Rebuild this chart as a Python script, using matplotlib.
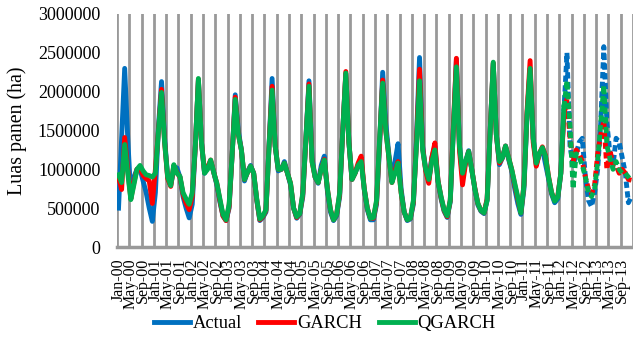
import numpy as np
import pandas as pd
import matplotlib
matplotlib.use('Agg')
import matplotlib.pyplot as plt

# monthly harvested area, thousand ha, Jan-2000 .. Dec-2013 (one row per year)
actual = [
    500, 1400, 2300, 1400, 650, 900, 1000, 1000, 850, 700, 500, 330,
    700, 1550, 2130, 1400, 900, 800, 1000, 1020, 900, 650, 500, 375,
    550, 1300, 2150, 1350, 950, 1020, 1100, 960, 800, 580, 400, 340,
    500, 1200, 1960, 1500, 1250, 850, 970, 1050, 950, 600, 340, 380,
    450, 1300, 2170, 1300, 980, 1000, 1100, 950, 800, 500, 370, 420,
    650, 1400, 2140, 1150, 900, 820, 1050, 1170, 720, 450, 340, 400,
    650, 1500, 2230, 1350, 870, 950, 1050, 1130, 740, 480, 350, 350,
    550, 1300, 2250, 1600, 1200, 850, 1100, 1330, 750, 450, 340, 360,
    550, 1400, 2440, 1300, 1000, 860, 1150, 1300, 850, 620, 460, 380,
    580, 1500, 2420, 1300, 900, 1100, 1240, 1000, 750, 540, 460, 430,
    600, 1500, 2360, 1450, 1060, 1150, 1300, 1130, 980, 750, 560, 420,
    750, 1700, 2300, 1400, 1060, 1200, 1270, 1070, 880, 680, 570, 620,
    950, 1750, 2500, 1300, 1050, 1200, 1350, 1400, 900, 600, 520, 700,
    1000, 1600, 2580, 1600, 1200, 1050, 1400, 1350, 1150, 950, 570, 650,
]
garch = [
    900, 740, 1410, 1000, 620, 830, 1000, 1020, 920, 880, 850, 560,
    1000, 1500, 2030, 1350, 880, 780, 1050, 960, 900, 680, 560, 480,
    650, 1300, 2160, 1350, 960, 1030, 1120, 960, 820, 600, 400, 340,
    520, 1200, 1930, 1450, 1250, 870, 960, 1040, 950, 610, 350, 390,
    470, 1300, 2070, 1300, 1000, 1000, 1080, 950, 820, 500, 380, 430,
    680, 1400, 2100, 1100, 900, 830, 1000, 1130, 750, 480, 350, 420,
    680, 1500, 2260, 1350, 870, 950, 1080, 1170, 750, 500, 370, 370,
    580, 1350, 2150, 1500, 1170, 830, 980, 1100, 700, 450, 350, 370,
    580, 1350, 2290, 1280, 980, 820, 1150, 1340, 860, 640, 470, 390,
    600, 1550, 2430, 1250, 800, 1080, 1230, 1000, 760, 560, 470, 440,
    620, 1500, 2370, 1450, 1080, 1150, 1300, 1150, 1000, 800, 620, 440,
    800, 1750, 2400, 1350, 1040, 1200, 1290, 1180, 910, 700, 600, 650,
    950, 1700, 1900, 1400, 1100, 1250, 1200, 1100, 900, 750, 680, 800,
    1200, 1450, 1620, 1000, 1250, 1050, 1050, 950, 1000, 950, 870, 860,
]
qgarch = [
    930, 830, 1320, 950, 610, 800, 1000, 1050, 980, 930, 920, 900,
    950, 1500, 1990, 1350, 900, 790, 1060, 950, 910, 700, 620, 550,
    700, 1300, 2170, 1350, 950, 1000, 1120, 960, 820, 620, 420, 350,
    550, 1200, 1900, 1450, 1250, 870, 960, 1040, 950, 620, 360, 400,
    480, 1300, 2020, 1300, 1000, 1000, 1080, 950, 820, 500, 390, 430,
    700, 1400, 2070, 1100, 900, 830, 1000, 1120, 750, 480, 350, 420,
    700, 1500, 2240, 1350, 870, 950, 1050, 1100, 750, 500, 370, 380,
    600, 1400, 2110, 1500, 1170, 830, 950, 1080, 700, 450, 350, 370,
    600, 1300, 2140, 1250, 1000, 870, 1100, 1250, 850, 650, 480, 400,
    600, 1500, 2320, 1300, 950, 1100, 1230, 1000, 750, 560, 470, 440,
    600, 1500, 2380, 1450, 1100, 1150, 1300, 1150, 1000, 820, 640, 440,
    800, 1700, 2300, 1400, 1080, 1200, 1280, 1170, 900, 700, 590, 640,
    950, 1800, 2140, 1550, 750, 1200, 1150, 1050, 900, 700, 650, 750,
    1100, 1600, 2080, 1300, 1150, 1000, 1100, 1000, 950, 950, 900, 850,
]

months = pd.date_range('2000-01-01', periods=len(actual), freq='MS')
tick_labels = [d.strftime('%b-%y') for d in months[::4]]
split = 145  # dashed from Feb-12 on

series = [
    ('Actual', actual, '#0070C0'),
    ('GARCH', garch, '#FF0000'),
    ('QGARCH', qgarch, '#00B050'),
]

plt.rcParams['font.family'] = ['Liberation Serif', 'DejaVu Serif']

fig = plt.figure(figsize=(6.33, 3.51), dpi=100)
ax = fig.add_axes([117 / 633, 104 / 351, 516 / 633, 233 / 351])

idx = np.arange(len(actual))
for name, vals, col in series:
    v = np.array(vals) * 1000
    ax.plot(idx[:split + 1], v[:split + 1], color=col, lw=3.5,
            solid_joinstyle='round', label=name, zorder=3)
    ax.plot(idx[split:], v[split:], color=col, lw=3.5,
            ls=(0, (1.3, 0.7)), zorder=3)

ax.set_xlim(-0.5, 166.9)
ax.set_ylim(0, 3000000)

ax.set_xticks(idx[::4])
ax.set_xticklabels(tick_labels, rotation=90, fontsize=11.5)
ax.set_xticks(np.arange(-0.5, len(actual), 4), minor=True)
ax.grid(True, which='minor', axis='x', color='#999999', lw=2)
ax.set_axisbelow(True)

yt = np.arange(0, 3000001, 500000)
ax.set_yticks(yt)
ax.set_yticklabels([str(v) for v in yt], fontsize=13)
ax.tick_params(which='both', length=0)
ax.tick_params(axis='y', pad=12)
ax.tick_params(axis='x', pad=8)

for s in ['top', 'right', 'left']:
    ax.spines[s].set_visible(False)
ax.spines['bottom'].set_color('#999999')
ax.spines['bottom'].set_linewidth(2.5)

ax.set_ylabel('Luas panen (ha)', fontsize=14.4)
ax.yaxis.set_label_coords(-0.175, 0.5)

fig.legend(loc='center', bbox_to_anchor=(0.513, 0.078), ncol=3, frameon=False,
           fontsize=13.3, handlelength=1.95, handletextpad=0.15, columnspacing=0.9)

fig.savefig('out.png', dpi=100)
